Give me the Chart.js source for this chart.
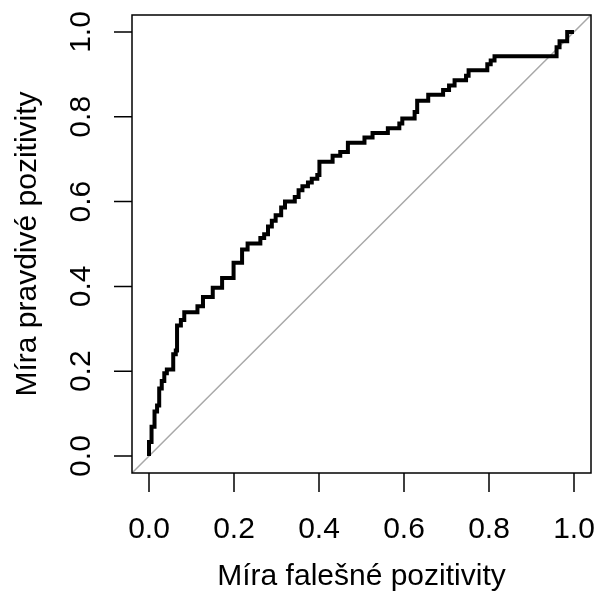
<!DOCTYPE html>
<html>
<head>
<meta charset="utf-8">
<script src="https://cdn.jsdelivr.net/npm/chart.js@4.4.0/dist/chart.umd.min.js"></script>
<style>
  html, body { margin: 0; padding: 0; background: #fff; }
  #wrap { width: 596px; height: 598px; position: relative; }
</style>
</head>
<body>
<div id="wrap"><canvas id="roc"></canvas></div>
<script>
"use strict";

// ROC krivka - body, kde krivka vystoupa (fpr, tpr)
var fpr = [0, 0, 0.006, 0.013, 0.019, 0.024, 0.030, 0.036, 0.042, 0.057, 0.063, 0.066, 0.075, 0.083,
    0.114, 0.127, 0.150, 0.172, 0.199, 0.219, 0.232, 0.262, 0.271, 0.280, 0.289, 0.298, 0.311, 0.320,
    0.343, 0.352, 0.361, 0.374, 0.383, 0.396, 0.401, 0.432, 0.450, 0.468, 0.507, 0.526, 0.562, 0.589,
    0.596, 0.625, 0.631, 0.657, 0.692, 0.706, 0.719, 0.746, 0.752, 0.796, 0.804, 0.813, 0.959, 0.966,
    0.984, 1.0];
var tpr = [0, 0.033, 0.069, 0.105, 0.119, 0.159, 0.177, 0.195, 0.204, 0.240, 0.249, 0.308, 0.321, 0.339,
    0.353, 0.375, 0.397, 0.420, 0.456, 0.487, 0.501, 0.514, 0.523, 0.541, 0.555, 0.568, 0.586, 0.600,
    0.611, 0.627, 0.636, 0.645, 0.654, 0.663, 0.694, 0.708, 0.717, 0.739, 0.751, 0.762, 0.773, 0.784,
    0.796, 0.811, 0.838, 0.852, 0.863, 0.874, 0.886, 0.897, 0.910, 0.924, 0.933, 0.943, 0.964, 0.978,
    1.0, 1.0];

var diagX = [-0.04, 1.04];
var diagY = [-0.04, 1.04];

var tickValues = [0, 0.2, 0.4, 0.6, 0.8, 1.0];
var tickLabels = ["0.0", "0.2", "0.4", "0.6", "0.8", "1.0"];

var xTitle = "Míra falešné pozitivity";
var yTitle = "Míra pravdivé pozitivity";

var FONT = '30px "Liberation Sans", Arial, Helvetica, sans-serif';

function toPoints(xs, ys) {
    return xs.map(function (x, i) { return { x: x, y: ys[i] }; });
}

// R-like osy: ramecek, ticky vne, popisky
var rAxes = {
    id: 'rAxes',
    afterDraw: function (chart) {
        var ctx = chart.ctx,
            a = chart.chartArea,
            sx = chart.scales.x,
            sy = chart.scales.y;
        ctx.save();
        ctx.strokeStyle = '#000';
        ctx.lineWidth = 1.5;
        ctx.strokeRect(a.left, a.top, a.right - a.left, a.bottom - a.top);

        ctx.beginPath();
        tickValues.forEach(function (v) {
            var px = sx.getPixelForValue(v);
            ctx.moveTo(px, a.bottom);
            ctx.lineTo(px, a.bottom + 19);
            var py = sy.getPixelForValue(v);
            ctx.moveTo(a.left, py);
            ctx.lineTo(a.left - 18, py);
        });
        ctx.stroke();

        ctx.fillStyle = '#000';
        ctx.font = FONT;
        ctx.textAlign = 'center';
        ctx.textBaseline = 'alphabetic';
        tickValues.forEach(function (v, i) {
            ctx.fillText(tickLabels[i], sx.getPixelForValue(v), a.bottom + 65);
            ctx.save();
            ctx.translate(a.left - 42, sy.getPixelForValue(v));
            ctx.rotate(-Math.PI / 2);
            ctx.fillText(tickLabels[i], 0, 0);
            ctx.restore();
        });

        ctx.fillText(xTitle, (a.left + a.right) / 2, a.bottom + 112);
        ctx.save();
        ctx.translate(a.left - 96, (a.top + a.bottom) / 2);
        ctx.rotate(-Math.PI / 2);
        ctx.fillText(yTitle, 0, 0);
        ctx.restore();
        ctx.restore();
    }
};

var rocCanvas = document.getElementById("roc"),
    rocChart = new Chart(rocCanvas, {
        type: 'line',
        data: {
            datasets: [{
                label: 'diagonala',
                data: toPoints(diagX, diagY),
                borderColor: '#a8a8a8',
                borderWidth: 1.5,
                pointRadius: 0,
                order: 2
            }, {
                label: 'ROC',
                data: toPoints(fpr, tpr),
                borderColor: '#000',
                borderWidth: 4,
                stepped: 'before',
                pointRadius: 0,
                order: 1
            }]
        },
        options: {
            responsive: true,
            maintainAspectRatio: false,
            animation: false,
            layout: {
                padding: { left: 132, right: 5, top: 15, bottom: 125 }
            },
            plugins: {
                legend: { display: false },
                tooltip: { enabled: false }
            },
            scales: {
                x: {
                    type: 'linear',
                    min: -0.04,
                    max: 1.04,
                    display: false
                },
                y: {
                    type: 'linear',
                    min: -0.04,
                    max: 1.04,
                    display: false
                }
            }
        },
        plugins: [rAxes]
    });
</script>
</body>
</html>
